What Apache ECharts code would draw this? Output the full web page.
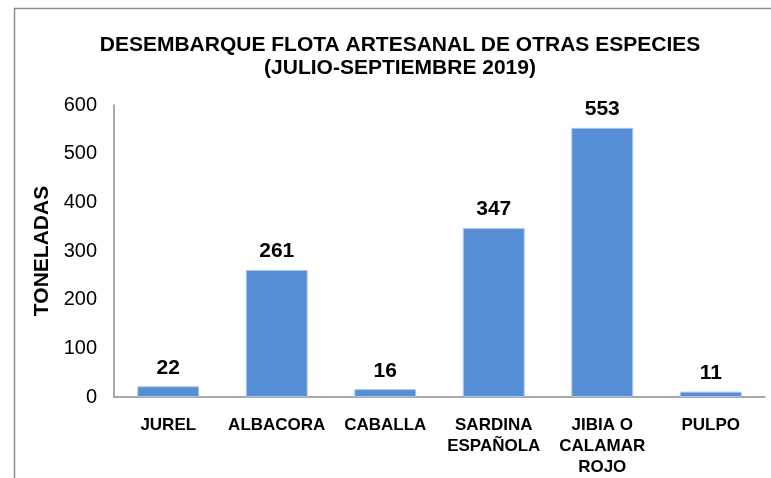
<!DOCTYPE html>
<html>
<head>
<meta charset="utf-8">
<script src="https://cdn.jsdelivr.net/npm/echarts@6/dist/echarts.min.js"></script>
<style>
  html, body { margin: 0; padding: 0; background: #fff; }
  #main { width: 771px; height: 478px; }
</style>
</head>
<body>
<div id="main"></div>
<script>
// datos del grafico
var categories = ['JUREL', 'ALBACORA', 'CABALLA', 'SARDINA\nESPAÑOLA', 'JIBIA O\nCALAMAR\nROJO', 'PULPO'];
var toneladas = [22, 261, 16, 347, 553, 11];
var titleLines = ['DESEMBARQUE FLOTA ARTESANAL DE OTRAS ESPECIES', '(JULIO-SEPTIEMBRE 2019)'];
var yAxisName = 'TONELADAS';

var font = '"Liberation Sans", Arial, sans-serif';
var myChart = echarts.init(document.getElementById('main'));

var option = {
    animation: false,
    backgroundColor: '#fff',
    title: {
        text: titleLines.join('\n'),
        left: 395,
        textAlign: 'center',
        top: 29,
        textStyle: {
            fontFamily: font,
            fontWeight: 'bold',
            fontSize: 21,
            lineHeight: 23,
            color: '#000'
        }
    },
    graphic: [{
        type: 'rect',
        shape: { x: 14.5, y: 8.5, width: 900, height: 600 },
        style: { fill: 'none', stroke: '#8c8c8c', lineWidth: 1.5 },
        silent: true
    }],
    grid: { left: 114, right: 6, top: 105, bottom: 81 },
    xAxis: {
        type: 'category',
        data: categories,
        axisLine: { lineStyle: { color: '#8c8c8c', width: 1.5 } },
        axisTick: { show: false },
        axisLabel: {
            interval: 0,
            margin: 18,
            fontFamily: font,
            fontWeight: 'bold',
            fontSize: 17,
            lineHeight: 21,
            color: '#000',
            verticalAlign: 'top'
        }
    },
    yAxis: {
        type: 'value',
        min: 0,
        max: 600,
        interval: 100,
        name: yAxisName,
        nameLocation: 'middle',
        nameGap: 56,
        nameTextStyle: {
            fontFamily: font,
            fontWeight: 'bold',
            fontSize: 21,
            color: '#000'
        },
        axisLine: { show: true, lineStyle: { color: '#8c8c8c', width: 1.5 } },
        axisTick: { show: false },
        splitLine: { show: false },
        axisLabel: {
            margin: 17,
            fontFamily: font,
            fontSize: 20,
            color: '#000'
        }
    },
    series: [{
        type: 'bar',
        data: toneladas,
        barWidth: '57%',
        itemStyle: { color: '#558ed5', borderColor: '#a9c4ea', borderWidth: 1 },
        label: {
            show: true,
            position: 'top',
            distance: 8,
            fontFamily: font,
            fontWeight: 'bold',
            fontSize: 21,
            color: '#000'
        }
    }]
};

myChart.setOption(option);
</script>
</body>
</html>
